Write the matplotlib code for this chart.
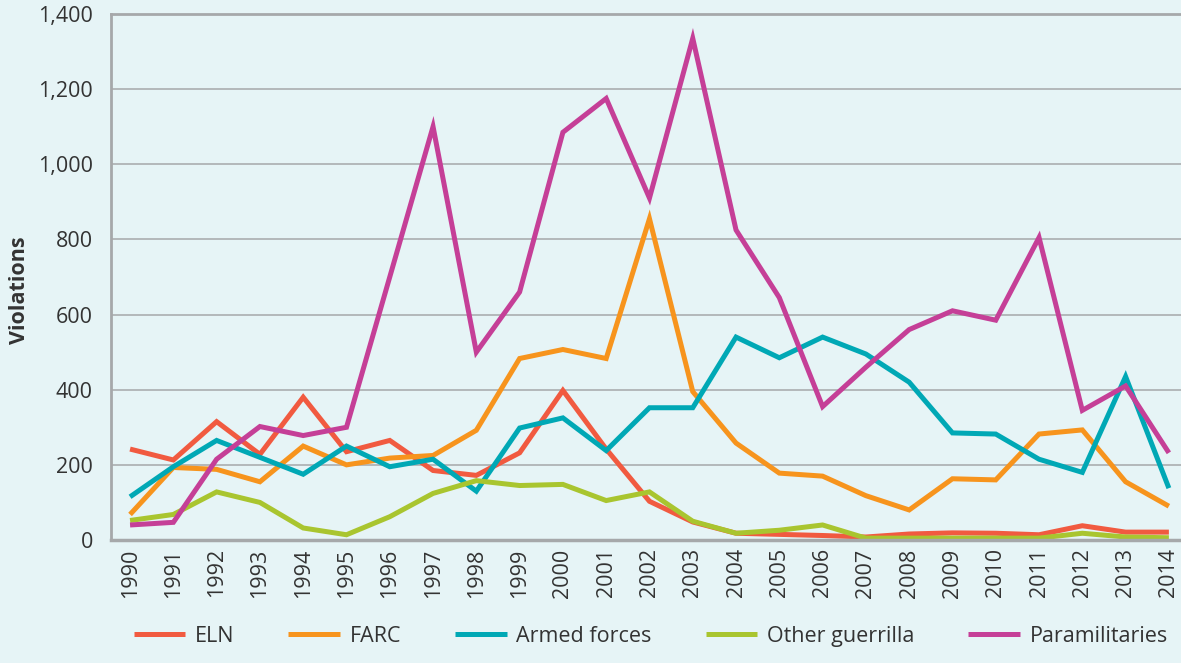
import numpy as np
import matplotlib
matplotlib.use("Agg")
import matplotlib.pyplot as plt
from matplotlib.ticker import FuncFormatter

plt.rcParams['font.family'] = ['Open Sans', 'DejaVu Sans']

years = list(range(1990, 2015))

eln = [242, 213, 315, 228, 380, 235, 265, 185, 172, 232, 398, 242, 103, 48, 18,
       15, 12, 8, 16, 19, 18, 14, 38, 21, 21]
farc = [68, 193, 188, 155, 250, 200, 218, 225, 292, 483, 507, 483, 855, 395, 258,
        178, 170, 118, 80, 163, 160, 282, 293, 155, 90]
armed = [115, 195, 265, 220, 175, 250, 195, 215, 130, 298, 325, 238, 352, 352, 540,
         485, 540, 495, 420, 285, 282, 215, 180, 435, 138]
other = [52, 68, 128, 100, 32, 14, 62, 124, 158, 145, 148, 105, 128, 50, 18,
         26, 40, 5, 5, 5, 5, 5, 18, 8, 6]
para = [40, 47, 215, 302, 278, 300, 700, 1100, 500, 660, 1085, 1175, 910, 1335, 825,
        645, 355, 460, 560, 610, 585, 805, 345, 410, 232]

series = [
    ("ELN", eln, "#F15A40"),
    ("FARC", farc, "#F7941D"),
    ("Armed forces", armed, "#00A8B5"),
    ("Other guerrilla", other, "#A9C52F"),
    ("Paramilitaries", para, "#C53F97"),
]

bg = "#E6F4F6"
grey = "#A6A8AA"
txt = "#333333"

fig = plt.figure(figsize=(11.81, 6.63), dpi=100, facecolor=bg)
ax = fig.add_axes([0.094, 0.1855, 0.906, 0.7935], facecolor=bg)

for name, vals, col in series:
    ax.plot(years, vals, color=col, lw=3.6, label=name, solid_joinstyle='miter',
            solid_capstyle='butt')

ax.set_xlim(1989.56, 2014.28)
ax.set_ylim(0, 1400)
ax.set_yticks(np.arange(0, 1401, 200))
ax.yaxis.set_major_formatter(FuncFormatter(lambda v, p: f"{int(v):,}"))
ax.set_xticks(years)
ax.set_xticklabels([str(y) for y in years], rotation=90)
ax.grid(axis='y', color=grey, lw=1.1)
ax.set_axisbelow(True)

ax.spines['right'].set_visible(False)
for s in ['left', 'bottom', 'top']:
    ax.spines[s].set_color(grey)
    ax.spines[s].set_linewidth(2)
ax.spines['bottom'].set_linewidth(2.5)

ax.tick_params(axis='both', length=0, labelsize=15.5, colors=txt)
ax.tick_params(axis='y', pad=13)
ax.tick_params(axis='x', pad=6)

# y axis title
fig.text(20 / 1181, 1 - 290 / 663, "Violations", rotation=90, fontsize=15.5,
         fontweight='bold', color=txt, ha='center', va='center')

fig.legend(loc='lower center', ncol=5, bbox_to_anchor=(0.551, -0.005), frameon=False,
           fontsize=15.5, handlelength=2.4, handletextpad=0.45, columnspacing=2.5,
           labelcolor=txt)

fig.savefig("out.png", dpi=100, facecolor=bg)
